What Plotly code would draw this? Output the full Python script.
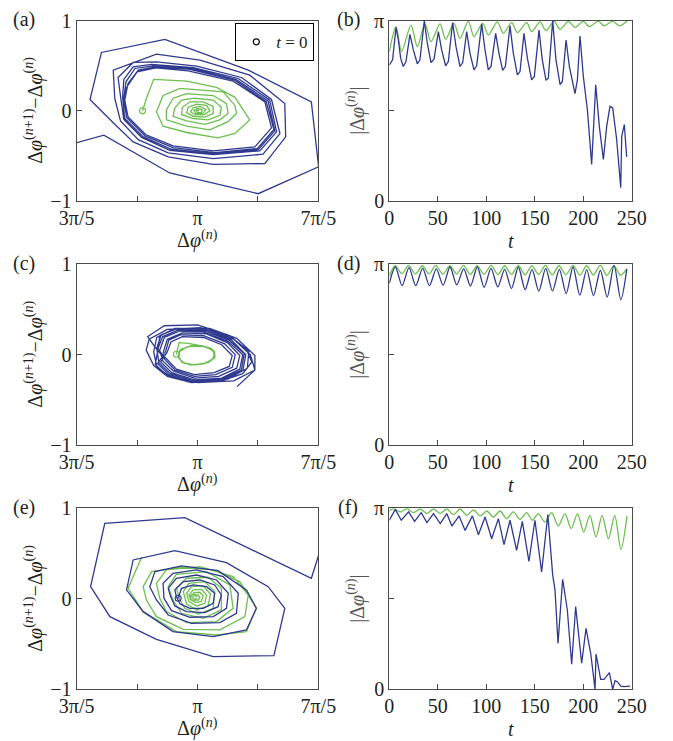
import plotly.graph_objects as go

# ---------------- data (phase in units of pi) ----------------
# panel (a): phase portrait
A_BLUE_X = [0.755, 0.765, 0.800, 0.862, 0.969, 1.118, 1.223, 1.245, 1.190, 1.052, 0.919, 0.828, 0.770,
            0.759, 0.770, 0.804, 0.864, 0.975, 1.124, 1.228, 1.253, 1.198, 1.057, 0.919, 0.826, 0.765,
            0.756, 0.763, 0.793, 0.853, 0.980, 1.129, 1.234, 1.256, 1.201, 1.052, 0.914, 0.820, 0.759,
            0.752, 0.756, 0.787, 0.848, 0.986, 1.135, 1.239, 1.262, 1.206, 1.052, 0.908, 0.815, 0.756,
            0.745, 0.737, 0.787, 0.864, 0.997, 1.146, 1.245, 1.273, 1.217, 1.052, 0.903, 0.804, 0.745,
            0.726, 0.721, 0.864, 1.008, 1.173, 1.289, 1.292, 1.223, 1.052, 0.903, 0.787, 0.726,
            0.644, 0.682, 0.892, 1.168, 1.377, 1.401, 1.201, 0.908, 0.690, 0.550]
A_BLUE_Y = [0.007, 0.259, 0.433, 0.478, 0.444, 0.330, 0.100, -0.189, -0.400, -0.444, -0.389, -0.263, -0.067,
            0.119, 0.304, 0.452, 0.489, 0.459, 0.341, 0.100, -0.207, -0.419, -0.463, -0.407, -0.278, -0.074,
            0.137, 0.322, 0.470, 0.500, 0.467, 0.348, 0.107, -0.222, -0.430, -0.474, -0.426, -0.289, -0.085,
            0.148, 0.348, 0.489, 0.515, 0.478, 0.359, 0.119, -0.233, -0.444, -0.485, -0.437, -0.296, -0.096,
            0.163, 0.370, 0.537, 0.544, 0.496, 0.370, 0.126, -0.252, -0.481, -0.530, -0.467, -0.319, -0.111,
            0.137, 0.452, 0.630, 0.563, 0.396, 0.081, -0.289, -0.585, -0.593, -0.511, -0.344, -0.148,
            0.126, 0.648, 0.793, 0.452, 0.100, -0.620, -0.919, -0.689, -0.270, -0.400]
A_GREEN_X = [0.818, 0.831, 0.855, 0.964, 1.063, 1.124, 1.173, 1.124, 1.068, 0.964, 0.886,
             0.864, 0.886, 0.942, 1.085, 1.124, 1.129, 1.101, 1.041, 0.964, 0.897,
             0.897, 0.919, 0.964, 1.052, 1.096, 1.101, 1.074, 1.024, 0.964, 0.919,
             0.925, 0.947, 0.991, 1.052, 1.079, 1.074, 1.035, 0.986, 0.947,
             0.950, 0.975, 1.019, 1.052, 1.052, 1.024, 0.986, 0.964,
             0.969, 0.997, 1.030, 1.041, 1.021, 0.991, 0.977,
             0.986, 1.008, 1.028, 1.017, 0.994, 0.988,
             0.999, 1.015, 1.013, 0.999, 0.997, 1.006]
A_GREEN_Y = [0.000, 0.140, 0.350, 0.330, 0.260, 0.150, -0.100, -0.250, -0.300, -0.240, -0.170,
             -0.010, 0.170, 0.250, 0.210, 0.060, -0.030, -0.120, -0.210, -0.170, -0.100,
             0.010, 0.140, 0.190, 0.170, 0.080, -0.030, -0.100, -0.150, -0.110, -0.060,
             0.030, 0.120, 0.140, 0.120, 0.040, -0.050, -0.100, -0.085, -0.040,
             0.040, 0.100, 0.100, 0.050, -0.030, -0.070, -0.060, -0.020,
             0.040, 0.075, 0.060, 0.000, -0.045, -0.040, -0.010,
             0.035, 0.050, 0.015, -0.030, -0.025, 0.005,
             0.026, 0.015, -0.020, -0.015, 0.004, 0.007]

# panel (b): |delta phi| vs t
B_BLUE_T = [0, 3.4, 6.9, 9.3, 11.7, 14.4, 17.2, 21.3, 24.8, 28.9,
            31.6, 36.1, 39.2, 43.0, 46.1, 50.6, 54.0, 58.1, 60.9, 65.3,
            68.8, 72.9, 75.7, 79.8, 83.2, 87.3, 90.1, 95.3, 98.7, 102.1,
            104.9, 109.7, 113.1, 116.9, 119.7, 124.5, 127.9, 132.1, 134.8, 138.9,
            142.4, 146.8, 149.6, 154.4, 157.8, 161.6, 164.0, 168.5, 171.9, 176.1,
            178.5, 182.3, 185.7, 191.5, 194.0, 196.7, 200.1, 204.3, 208.7, 212.9,
            216.6, 220.8, 224.2, 227.6, 230.4, 234.5, 238.7, 239.7, 242.4, 244.8]
B_BLUE_Y = [0.755, 0.783, 0.963, 0.893, 0.792, 0.746, 0.773, 0.924, 0.838, 0.761,
            0.783, 1.0, 0.875, 0.768, 0.786, 0.939, 0.838, 0.750, 0.773, 0.989,
            0.856, 0.746, 0.768, 0.939, 0.820, 0.727, 0.750, 0.982, 0.838, 0.727,
            0.746, 0.930, 0.820, 0.724, 0.746, 0.971, 0.820, 0.700, 0.718, 0.930,
            0.792, 0.672, 0.691, 0.948, 0.783, 0.669, 0.681, 1.0, 0.783, 0.645,
            0.663, 0.893, 0.746, 0.595, 0.672, 0.915, 0.691, 0.506, 0.203, 0.645,
            0.414, 0.230, 0.414, 0.525, 0.516, 0.341, 0.074, 0.359, 0.424, 0.245]
B_GREEN_T = [0, 6.9, 12.7, 22.4, 28.9, 36.8, 43.0, 52.3, 58.1, 66.7, 72.9, 81.5,
             87.3, 96.3, 102.1, 111.4, 117.6, 126.2, 132.1, 141.7, 146.8, 155.4,
             161.6, 169.9, 176.1, 184.7, 191.5, 200.1, 206.3, 215.6, 221.5, 230.4,
             237.3, 245.5]
B_GREEN_Y = [0.829, 0.967, 0.829, 0.976, 0.856, 0.982, 0.884, 0.982, 0.897, 0.985, 0.902, 0.998,
             0.912, 0.985, 0.921, 0.994, 0.930, 0.989, 0.934, 0.989, 0.939, 0.993,
             0.945, 0.996, 0.952, 0.996, 0.963, 0.996, 0.967, 0.998, 0.971, 0.998,
             0.971, 1.0]

# panel (c): phase portrait
C_BLUE_X = [0.886, 0.900, 0.950, 1.030, 1.100, 1.140, 1.130, 1.070, 0.990, 0.920, 0.885,
            0.875, 0.890, 0.940, 1.020, 1.100, 1.150, 1.140, 1.080, 0.990, 0.915, 0.878,
            0.900, 0.912, 0.950, 1.020, 1.080, 1.115, 1.105, 1.055, 0.990, 0.930, 0.902,
            0.868, 0.885, 0.935, 1.025, 1.105, 1.155, 1.145, 1.080, 0.985, 0.910, 0.872,
            0.865, 0.880, 0.930, 1.030, 1.110, 1.160, 1.150, 1.085, 0.980, 0.905, 0.868,
            0.895, 0.905, 0.945, 1.020, 1.090, 1.125, 1.115, 1.060, 0.990, 0.925, 0.897,
            0.860, 0.835, 0.890, 1.000, 1.100, 1.160, 1.180, 1.150, 1.080, 0.980, 0.900, 0.855,
            0.830, 0.840, 0.900, 1.010, 1.110, 1.170, 1.165, 1.100, 0.990, 0.900, 0.860,
            0.870, 0.875, 0.930, 1.030, 1.120, 1.175, 1.190, 1.120, 1.000, 0.910, 0.865,
            0.855, 0.865, 0.925, 1.040, 1.130, 1.190, 1.190, 1.131]
C_BLUE_Y = [0.02, 0.17, 0.24, 0.23, 0.13, -0.01, -0.15, -0.24, -0.26, -0.18, -0.07,
            0.05, 0.19, 0.26, 0.25, 0.15, 0.00, -0.16, -0.26, -0.28, -0.20, -0.08,
            0.03, 0.14, 0.20, 0.19, 0.11, -0.01, -0.13, -0.20, -0.22, -0.16, -0.06,
            0.06, 0.20, 0.27, 0.26, 0.16, 0.01, -0.17, -0.27, -0.29, -0.21, -0.09,
            0.07, 0.22, 0.285, 0.27, 0.17, 0.00, -0.18, -0.28, -0.30, -0.22, -0.10,
            0.04, 0.16, 0.22, 0.21, 0.12, 0.00, -0.14, -0.22, -0.24, -0.17, -0.07,
            0.08, 0.20, 0.32, 0.33, 0.22, 0.07, -0.08, -0.21, -0.29, -0.31, -0.24, -0.12,
            0.05, 0.17, 0.28, 0.30, 0.20, 0.04, -0.15, -0.27, -0.30, -0.23, -0.11,
            0.07, 0.21, 0.29, 0.28, 0.17, 0.00, -0.17, -0.29, -0.31, -0.25, -0.13,
            0.03, 0.19, 0.29, 0.29, 0.18, -0.01, -0.17, -0.354]
C_GREEN_X = [0.930, 0.939, 0.969, 1.010, 1.045, 1.058, 1.048, 1.015, 0.975, 0.948, 0.936,
             0.945, 0.980, 1.030, 1.056, 1.052, 1.022, 0.980, 0.950, 0.937, 0.942, 0.975,
             1.025, 1.055, 1.057, 1.030, 0.988, 0.953, 0.937, 0.940, 0.970, 1.018, 1.050,
             1.058, 1.037, 0.995, 0.957, 0.938, 0.939, 0.965, 1.012, 1.048, 1.058]
C_GREEN_Y = [0.004, 0.133, 0.125, 0.100, 0.070, 0.010, -0.060, -0.105, -0.112, -0.080, -0.010,
             0.060, 0.098, 0.085, 0.030, -0.045, -0.098, -0.113, -0.088, -0.020, 0.050, 0.095,
             0.090, 0.040, -0.035, -0.092, -0.114, -0.092, -0.030, 0.040, 0.090, 0.095, 0.052,
             -0.020, -0.085, -0.113, -0.097, -0.040, 0.030, 0.085, 0.098, 0.060, -0.010]

# panel (d)
D_BLUE_T = [0, 6.2, 13.2, 20.3, 27.3, 34.4, 41.4, 48.5, 55.5, 62.6, 69.6, 76.7, 83.7, 90.8,
            97.8, 104.9, 111.9, 119.0, 126.0, 133.1, 140.1, 147.2, 154.2, 161.3, 168.3, 175.4,
            182.4, 189.5, 196.5, 203.6, 210.6, 217.7, 224.7, 231.8, 238.8, 245.0]
D_BLUE_Y = [0.895, 0.985, 0.882, 0.982, 0.882, 0.978, 0.882, 0.975, 0.884, 0.985, 0.886, 0.975,
            0.880, 0.985, 0.873, 0.978, 0.875, 0.972, 0.866, 0.985, 0.860, 0.972, 0.851, 0.978,
            0.853, 0.972, 0.838, 0.985, 0.829, 0.970, 0.826, 0.967, 0.818, 0.994, 0.805, 0.975]
D_GREEN_T = [0, 6.0, 13.0, 20.0, 27.0, 34.0, 41.0, 48.0, 55.2, 62.5, 69.5, 76.5, 83.5, 90.5,
             97.8, 105.0, 112.0, 119.0, 126.0, 133.0, 140.0, 147.0, 154.0, 161.0, 168.0, 175.0,
             182.2, 189.5, 196.5, 203.5, 210.5, 217.5, 224.5, 231.5, 238.5, 245.0]
D_GREEN_Y = [0.935, 0.992, 0.948, 0.994, 0.946, 0.992, 0.947, 0.994, 0.945, 0.992, 0.946, 0.994,
             0.944, 0.992, 0.945, 0.994, 0.943, 0.992, 0.944, 0.994, 0.942, 0.992, 0.943, 0.994,
             0.941, 0.992, 0.942, 0.994, 0.940, 0.992, 0.941, 0.994, 0.939, 0.992, 0.940, 0.975]

# panel (e): phase portrait
E_BLUE_X = [0.936, 0.947, 0.986, 1.030, 1.057, 1.052, 1.019, 0.975, 0.942, 0.930,
            0.925, 0.953, 1.008, 1.057, 1.079, 1.068, 1.024, 0.964, 0.925, 0.911,
            0.903, 0.930, 0.997, 1.063, 1.102, 1.096, 1.052, 0.975, 0.914, 0.889,
            0.886, 0.919, 0.997, 1.085, 1.135, 1.129, 1.074, 0.980, 0.903, 0.864,
            0.842, 0.859, 0.947, 1.068, 1.162, 1.195, 1.162, 1.052, 0.919, 0.820,
            0.765, 0.787, 0.925, 1.096, 1.234, 1.289, 1.253, 1.052, 0.864, 0.710,
            0.646, 0.693, 0.958, 1.377, 1.410]
E_BLUE_Y = [0.006, 0.116, 0.153, 0.134, 0.061, -0.050, -0.105, -0.105, -0.057, 0.024,
            0.098, 0.190, 0.208, 0.153, 0.042, -0.087, -0.153, -0.142, -0.079, 0.024,
            0.116, 0.227, 0.263, 0.208, 0.061, -0.105, -0.197, -0.204, -0.131, 0.006,
            0.171, 0.282, 0.319, 0.245, 0.061, -0.160, -0.263, -0.271, -0.179, -0.013,
            0.134, 0.300, 0.363, 0.311, 0.098, -0.105, -0.344, -0.418, -0.363, -0.142,
            0.098, 0.429, 0.532, 0.400, 0.134, -0.105, -0.628, -0.639, -0.448, -0.197,
            0.134, 0.834, 0.897, 0.227, 0.576]
E_GREEN_X = [0.986, 0.991, 1.002, 1.008, 1.003, 0.991,
             0.980, 0.988, 1.008, 1.019, 1.013, 0.994, 0.979,
             0.972, 0.986, 1.013, 1.030, 1.024, 0.997, 0.972,
             0.964, 0.980, 1.019, 1.043, 1.035, 0.997, 0.964,
             0.953, 0.971, 1.024, 1.057, 1.052, 1.002, 0.958, 0.942,
             0.930, 0.964, 1.035, 1.079, 1.079, 1.019, 0.947, 0.919,
             0.903, 0.930, 1.030, 1.107, 1.118, 1.063, 0.964, 0.897, 0.875,
             0.864, 0.897, 1.008, 1.118, 1.168, 1.157, 1.074, 0.953, 0.864, 0.831,
             0.820, 0.848, 0.942, 1.052, 1.140, 1.195, 1.162, 1.063, 0.930, 0.820, 0.770, 0.815]
E_GREEN_Y = [0.017, 0.042, 0.042, 0.017, -0.013, -0.013,
             0.024, 0.068, 0.072, 0.031, -0.028, -0.042, -0.013,
             0.042, 0.098, 0.105, 0.042, -0.050, -0.079, -0.031,
             0.061, 0.134, 0.142, 0.053, -0.079, -0.123, -0.057,
             0.079, 0.171, 0.190, 0.079, -0.105, -0.168, -0.105, -0.013,
             0.116, 0.227, 0.238, 0.116, -0.123, -0.215, -0.160, -0.013,
             0.134, 0.271, 0.300, 0.153, -0.105, -0.252, -0.263, -0.142, 0.006,
             0.171, 0.319, 0.355, 0.245, 0.042, -0.197, -0.344, -0.337, -0.197, -0.013,
             0.134, 0.300, 0.348, 0.319, 0.190, -0.105, -0.363, -0.400, -0.363, -0.142, 0.116, 0.459]

# panel (f)
F_BLUE_T = [0, 6.2, 12.3, 19.9, 26.1, 32.9, 38.8, 45.6, 52.5, 59.3,
            64.5, 72.0, 78.2, 85.7, 91.9, 98.8, 105.6, 112.5, 118.3, 124.5,
            131.3, 137.2, 144.0, 150.2, 157.1, 163.5, 168.5, 170.9, 174.0, 178.8,
            183.6, 188.1, 192.2, 198.4, 202.9, 207.7, 212.2, 213.2, 218.0, 221.5,
            227.0, 230.4, 232.8, 235.2, 238.7, 242.1, 248.3]
F_BLUE_Y = [0.934, 0.994, 0.934, 0.980, 0.928, 0.976, 0.921, 0.971, 0.915, 0.971,
            0.902, 0.958, 0.878, 0.958, 0.854, 0.952, 0.832, 0.943, 0.799, 0.934,
            0.768, 0.928, 0.707, 0.934, 0.648, 0.965, 0.632, 0.549, 0.254, 0.608,
            0.438, 0.138, 0.457, 0.144, 0.337, 0.199, 0.0, 0.195, 0.055, 0.055,
            0.092, 0.0, 0.048, 0.042, 0.018, 0.015, 0.018]
F_GREEN_T = [0, 4.5, 11.3, 18.2, 25.0, 31.9, 38.8, 45.6, 52.5, 59.3, 66.2, 73.0, 79.9,
             86.8, 93.7, 100.5, 107.4, 114.2, 121.1, 127.9, 134.8, 141.6, 147.6, 153.6,
             160.5, 167.4, 174.3, 181.1, 187.6, 194.1, 200.5, 206.8, 213.2, 219.5, 226.0,
             232.5, 238.9, 245.2]
F_GREEN_Y = [0.985, 0.998, 0.980, 0.998, 0.976, 0.996, 0.971, 0.996, 0.971, 0.996, 0.965, 0.996,
             0.961, 0.991, 0.958, 0.985, 0.952, 0.985, 0.943, 0.980, 0.939, 0.976, 0.934, 0.971,
             0.924, 0.976, 0.902, 0.971, 0.888, 0.971, 0.869, 0.961, 0.842, 0.961, 0.832, 0.961,
             0.773, 0.958]

PHASE_TICKS = [0.6, 0.8, 1.0, 1.2, 1.4]
PHASE_LABELS = ["3π/5", " ", "π", " ", "7π/5"]
DIFF_TICKS = [-1, 0, 1]
DIFF_LABELS = ["−1", "0", "1"]
T_TICKS = [0, 50, 100, 150, 200, 250]
T_LABELS = ["0", "50", "100", "150", "200", "250"]
ABS_TICKS = [0, 0.5, 1]
ABS_LABELS = ["0", " ", "π"]
PANEL_LABELS = ["(a)", "(b)", "(c)", "(d)", "(e)", "(f)"]

# ---------------- styling ----------------
BLUE = "#2F3A8F"
GREEN = "#6CBF4F"
AXC = "#4a4a4a"
TXT = "#231f20"
FONT = "Liberation Serif, Times New Roman, serif"

# the page body has an 8 px margin: size the figure so it fits the 673x741 window
OFF = 8
W, H = 673 - OFF, 741 - OFF


def px(rx):
    return (rx - OFF) / W


def py(ry):
    return 1 - (ry - OFF) / H


XL = [px(76.7), px(318.3)]
XR = [px(389.3), px(631.7)]
tops = [20.7, 264.3, 508.3]
bottoms = [201.0, 445.0, 689.3]
ROWS = [[py(b), py(t)] for t, b in zip(tops, bottoms)]

fig = go.Figure()


def line(x, y, color, ax, shape="linear"):
    fig.add_trace(go.Scatter(x=x, y=y, mode="lines",
                             line=dict(color=color, width=1.3, shape=shape, smoothing=0.8),
                             xaxis="x" + ax, yaxis="y" + ax, showlegend=False, hoverinfo="skip"))


def start(x, y, color, ax):
    fig.add_trace(go.Scatter(x=[x[0]], y=[y[0]], mode="markers",
                             marker=dict(symbol="circle-open", size=6, color=color, line=dict(width=1.1)),
                             xaxis="x" + ax, yaxis="y" + ax, showlegend=False, hoverinfo="skip"))


# (a)
line(A_BLUE_X, A_BLUE_Y, BLUE, "")
line(A_GREEN_X, A_GREEN_Y, GREEN, "")
start(A_GREEN_X, A_GREEN_Y, GREEN, "")
# (b)
line(B_GREEN_T, B_GREEN_Y, GREEN, "2", "spline")
line(B_BLUE_T, B_BLUE_Y, BLUE, "2")
# (c)
line(C_BLUE_X, C_BLUE_Y, BLUE, "3")
line(C_GREEN_X, C_GREEN_Y, GREEN, "3")
start(C_GREEN_X, C_GREEN_Y, GREEN, "3")
# (d)
line(D_GREEN_T, D_GREEN_Y, GREEN, "4", "spline")
line(D_BLUE_T, D_BLUE_Y, BLUE, "4", "spline")
# (e)
line(E_GREEN_X, E_GREEN_Y, GREEN, "5")
line(E_BLUE_X, E_BLUE_Y, BLUE, "5")
start(E_BLUE_X, E_BLUE_Y, BLUE, "5")
start(E_GREEN_X, E_GREEN_Y, GREEN, "5")
# (f)
line(F_GREEN_T, F_GREEN_Y, GREEN, "6", "spline")
line(F_BLUE_T, F_BLUE_Y, BLUE, "6")

# legend entry for the t = 0 marker
fig.add_trace(go.Scatter(x=[None], y=[None], mode="markers", name="<i>t</i> = 0",
                         marker=dict(symbol="circle-open", size=6, color="black", line=dict(width=1.1)),
                         xaxis="x", yaxis="y", showlegend=True))

common = dict(showline=True, linecolor=AXC, linewidth=1.2, mirror=True, ticks="inside",
              ticklen=5, tickwidth=1.2, tickcolor=AXC, showgrid=False, zeroline=False,
              automargin=False, tickfont=dict(family=FONT, size=20, color=TXT), fixedrange=True)

layout = dict(template="none", width=W, height=H,
              margin=dict(l=0, r=0, t=0, b=0, pad=0, autoexpand=False),
              paper_bgcolor="white", plot_bgcolor="white",
              font=dict(family=FONT, color=TXT))

names = ["", "2", "3", "4", "5", "6"]
for i, n in enumerate(names):
    row = ROWS[i // 2]
    left = (i % 2 == 0)
    xa = dict(common, domain=XL if left else XR, anchor="y" + n, ticklabelstandoff=-1)
    ya = dict(common, domain=row, anchor="x" + n)
    if left:
        xa.update(range=[0.6, 1.4], tickvals=PHASE_TICKS, ticktext=PHASE_LABELS)
        ya.update(range=[-1, 1], tickvals=DIFF_TICKS, ticktext=DIFF_LABELS)
    else:
        xa.update(range=[0, 250], tickvals=T_TICKS, ticktext=T_LABELS)
        ya.update(range=[0, 1], tickvals=ABS_TICKS, ticktext=ABS_LABELS)
    layout["xaxis" + n] = xa
    layout["yaxis" + n] = ya

XTITLE = "Δ<i>φ</i><sup>(<i>n</i>)</sup>"
YTITLE_L = "Δ<i>φ</i><sup>(<i>n</i>+1)</sup>−Δ<i>φ</i><sup>(<i>n</i>)</sup>"
YTITLE_R = "|Δ<i>φ</i><sup>(<i>n</i>)</sup>|"
TTITLE = "<i>t</i>"

ann = []
for r in range(3):
    yb = bottoms[r]
    ymid = (bottoms[r] + tops[r]) / 2
    ann.append(dict(text=XTITLE, x=px(197.5), y=py(yb + 38), xref="paper", yref="paper",
                    showarrow=False, xanchor="center", yanchor="middle",
                    font=dict(family=FONT, size=20, color=TXT)))
    ann.append(dict(text=TTITLE, x=px(510.5), y=py(yb + 40), xref="paper", yref="paper",
                    showarrow=False, xanchor="center", yanchor="middle",
                    font=dict(family=FONT, size=20, color=TXT)))
    ann.append(dict(text=YTITLE_L, x=px(34), y=py(ymid), xref="paper", yref="paper",
                    showarrow=False, xanchor="center", yanchor="middle", textangle=-90,
                    font=dict(family=FONT, size=20, color=TXT)))
    ann.append(dict(text=YTITLE_R, x=px(356), y=py(ymid), xref="paper", yref="paper",
                    showarrow=False, xanchor="center", yanchor="middle", textangle=-90,
                    font=dict(family=FONT, size=20, color="#555555")))
    ann.append(dict(text=PANEL_LABELS[2 * r], x=px(24), y=py(tops[r] - 1), xref="paper",
                    yref="paper", showarrow=False, xanchor="center", yanchor="middle",
                    font=dict(family=FONT, size=20, color=TXT)))
    ann.append(dict(text=PANEL_LABELS[2 * r + 1], x=px(348), y=py(tops[r] - 1), xref="paper",
                    yref="paper", showarrow=False, xanchor="center", yanchor="middle",
                    font=dict(family=FONT, size=20, color=TXT)))
layout["annotations"] = ann
layout["legend"] = dict(x=px(314.3), y=py(23.3), xanchor="right", yanchor="top",
                        bordercolor="black", borderwidth=1, bgcolor="white",
                        font=dict(family=FONT, size=17, color=TXT), itemwidth=30,
                        tracegroupgap=0)
layout["showlegend"] = True
fig.update_layout(**layout)
fig.write_html("out.html")
